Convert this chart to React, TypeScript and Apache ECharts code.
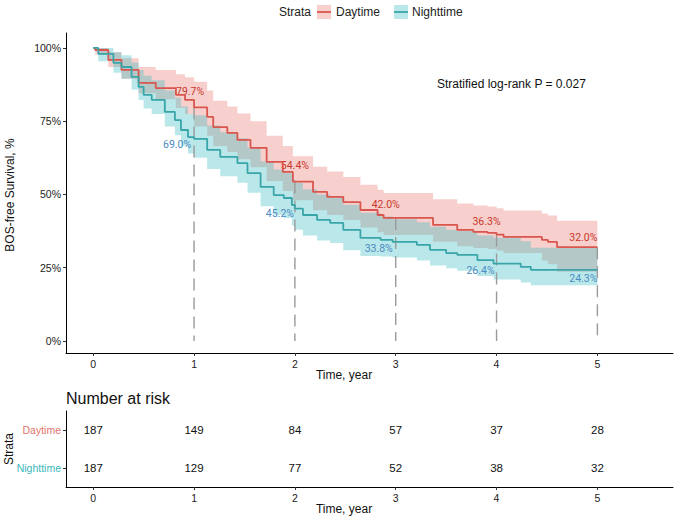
import React, { useEffect, useRef } from 'react';
import * as echarts from 'echarts';

// ---------- data ----------
const END_TIME = 5;

const dayTimes = [0, 0.02, 0.15, 0.28, 0.45, 0.62, 0.82, 0.91, 1.0, 1.13, 1.19, 1.33, 1.43, 1.56, 1.72, 1.88, 1.98, 2.18, 2.32, 2.48, 2.65, 2.82, 2.88, 3.37, 3.61, 3.77, 3.91, 4.0, 4.07, 4.45, 4.51, 4.6];
const daySurv = [1, 0.993, 0.959, 0.925, 0.881, 0.863, 0.84, 0.823, 0.797, 0.765, 0.73, 0.71, 0.686, 0.659, 0.611, 0.577, 0.544, 0.509, 0.492, 0.474, 0.447, 0.43, 0.42, 0.396, 0.379, 0.372, 0.369, 0.363, 0.355, 0.345, 0.338, 0.32];
const dayUpper = [1, 1, 0.985, 0.965, 0.935, 0.925, 0.91, 0.9, 0.885, 0.855, 0.82, 0.8, 0.776, 0.75, 0.7, 0.665, 0.63, 0.595, 0.578, 0.56, 0.533, 0.516, 0.505, 0.484, 0.469, 0.462, 0.459, 0.453, 0.445, 0.435, 0.428, 0.41];
const dayLower = [1, 0.978, 0.935, 0.895, 0.845, 0.825, 0.795, 0.775, 0.732, 0.7, 0.665, 0.645, 0.62, 0.593, 0.546, 0.512, 0.48, 0.446, 0.43, 0.413, 0.387, 0.371, 0.362, 0.339, 0.323, 0.317, 0.314, 0.309, 0.3, 0.275, 0.262, 0.236];

const nightTimes = [0, 0.05, 0.2, 0.28, 0.38, 0.45, 0.5, 0.58, 0.71, 0.81, 0.87, 0.94, 1.0, 1.13, 1.26, 1.43, 1.53, 1.66, 1.79, 1.89, 1.97, 2.0, 2.08, 2.22, 2.35, 2.48, 2.65, 2.85, 2.97, 3.21, 3.34, 3.5, 3.61, 3.81, 3.97, 4.24, 4.34];
const nightSurv = [1, 0.98, 0.949, 0.935, 0.901, 0.867, 0.84, 0.823, 0.782, 0.754, 0.72, 0.696, 0.69, 0.652, 0.628, 0.607, 0.573, 0.526, 0.498, 0.488, 0.464, 0.452, 0.43, 0.413, 0.403, 0.379, 0.352, 0.345, 0.338, 0.328, 0.311, 0.3, 0.294, 0.276, 0.264, 0.253, 0.243];
const nightUpper = [1, 1, 0.985, 0.975, 0.95, 0.925, 0.905, 0.89, 0.855, 0.83, 0.8, 0.775, 0.77, 0.735, 0.712, 0.692, 0.66, 0.613, 0.585, 0.575, 0.552, 0.54, 0.518, 0.5, 0.49, 0.465, 0.438, 0.425, 0.415, 0.405, 0.39, 0.38, 0.375, 0.36, 0.352, 0.34, 0.318];
const nightLower = [1, 0.955, 0.915, 0.895, 0.858, 0.822, 0.793, 0.775, 0.732, 0.702, 0.666, 0.64, 0.625, 0.587, 0.562, 0.54, 0.506, 0.46, 0.43, 0.42, 0.394, 0.38, 0.36, 0.343, 0.334, 0.31, 0.29, 0.288, 0.285, 0.275, 0.258, 0.248, 0.24, 0.222, 0.21, 0.2, 0.19];

const landmarkTimes = [1, 2, 3, 4, 5];
const dayLandmark = [0.797, 0.544, 0.42, 0.363, 0.32];
const nightLandmark = [0.69, 0.452, 0.338, 0.264, 0.243];

const strata = ['Daytime', 'Nighttime'];
const riskTimes = [0, 1, 2, 3, 4, 5];
const riskDay = [187, 149, 84, 57, 37, 28];
const riskNight = [187, 129, 77, 52, 38, 32];

const xTicks = [0, 1, 2, 3, 4, 5];
const yTicks = [0, 0.25, 0.5, 0.75, 1];
const pValueText = 'Stratified log-rank P = 0.027';

// ---------- styles ----------
const RED_LINE = '#D9564E';
const TEAL_LINE = '#3AA5A8';
const RED_BAND = 'rgba(232,125,116,0.36)';
const TEAL_BAND = 'rgba(40,185,190,0.32)';
const RED_LABEL = '#C9372C';
const BLUE_LABEL = '#4A8BC2';
const RED_TABLE = '#E2736B';
const TEAL_TABLE = '#3DB7BC';
const FONT = 'Liberation Sans, Arial, sans-serif';
const dayLabelDx = [-4, 0, -10, -10, -14];
const dayLabelDy = [-16, -16, -13, -13, -10];
const nightLabelDx = [-17, -15, -17, -16, -14];
const nightLabelDy = [6, 5, 7, 7, 9];

function stepPoints(times: number[], vals: number[], end: number): number[][] {
  const pts: number[][] = [[times[0], vals[0]]];
  for (let i = 1; i < times.length; i++) {
    pts.push([times[i], vals[i - 1]]);
    pts.push([times[i], vals[i]]);
  }
  pts.push([end, vals[vals.length - 1]]);
  return pts;
}

function bandSeries(name: string, times: number[], lo: number[], hi: number[], color: string) {
  const upper = stepPoints(times, hi, END_TIME);
  const lower = stepPoints(times, lo, END_TIME).reverse();
  const poly = upper.concat(lower);
  return {
    name: name + ' CI',
    type: 'custom',
    xAxisIndex: 0,
    yAxisIndex: 0,
    silent: true,
    clip: false,
    data: [[0, 1]],
    renderItem: (_params: any, api: any) => ({
      type: 'polygon',
      shape: { points: poly.map((p) => api.coord(p)) },
      style: { fill: color },
    }),
  };
}

function lineSeries(name: string, times: number[], surv: number[], color: string) {
  return {
    name,
    type: 'line',
    xAxisIndex: 0,
    yAxisIndex: 0,
    data: stepPoints(times, surv, END_TIME),
    showSymbol: false,
    symbol: 'none',
    silent: true,
    lineStyle: { color, width: 1.8 },
    itemStyle: { color },
  };
}

function labelSeries(vals: number[], color: string, dx: number[], dy: number[]) {
  return {
    type: 'custom',
    xAxisIndex: 0,
    yAxisIndex: 0,
    silent: true,
    data: landmarkTimes.map((t, i) => [t, vals[i]]),
    renderItem: (params: any, api: any) => {
      const i = params.dataIndex;
      const v = api.value(1);
      const p = api.coord([api.value(0), v]);
      return {
        type: 'text',
        x: p[0] + dx[i],
        y: p[1] + dy[i],
        style: {
          text: (v * 100).toFixed(1) + '%',
          fill: color,
          fontSize: 10.5,
          fontFamily: 'Roboto',
          align: 'center',
          verticalAlign: 'middle',
        },
      };
    },
  };
}

const riskCats = ['Nighttime', 'Daytime'];

function buildOption(): any {
  const axisCommonX = (gridIndex: number) => ({
    type: 'value',
    gridIndex,
    min: -0.27,
    max: 5.75,
    axisLine: { show: true, onZero: false, lineStyle: { color: '#000', width: 1 } },
    axisTick: { show: true, length: 3, customValues: xTicks, lineStyle: { color: '#333' } },
    axisLabel: { customValues: xTicks, margin: 5, fontSize: 10.5, color: '#222', fontFamily: FONT },
    splitLine: { show: false },
  });

  const riskData: number[][] = [];
  riskTimes.forEach((t, i) => {
    riskData.push([t, riskCats.indexOf(strata[0]), riskDay[i]]);
    riskData.push([t, riskCats.indexOf(strata[1]), riskNight[i]]);
  });

  return {
    animation: false,
    textStyle: { fontFamily: FONT },
    grid: [
      { left: 66, top: 33, width: 607, height: 320 },
      { left: 66, top: 411, width: 607, height: 76 },
    ],
    xAxis: [axisCommonX(0), axisCommonX(1)],
    yAxis: [
      {
        type: 'value',
        gridIndex: 0,
        min: -0.041,
        max: 1.051,
        axisLine: { show: true, onZero: false, lineStyle: { color: '#000', width: 1 } },
        axisTick: { show: true, length: 3, customValues: yTicks, lineStyle: { color: '#333' } },
        axisLabel: {
          customValues: yTicks,
          margin: 5,
          fontSize: 10.5,
          color: '#222',
          fontFamily: FONT,
          formatter: (v: number) => Math.round(v * 100) + '%',
        },
        splitLine: { show: false },
      },
      {
        type: 'category',
        gridIndex: 1,
        data: riskCats,
        axisLine: { show: true, onZero: false, lineStyle: { color: '#000', width: 1 } },
        axisTick: { show: true, length: 3, alignWithLabel: true, lineStyle: { color: '#333' } },
        axisLabel: {
          margin: 5,
          fontSize: 10.5,
          fontFamily: FONT,
          color: (v: string) => (v === strata[0] ? RED_TABLE : TEAL_TABLE),
        },
        splitLine: { show: false },
      },
    ],
    series: [
      bandSeries(strata[0], dayTimes, dayLower, dayUpper, RED_BAND),
      bandSeries(strata[1], nightTimes, nightLower, nightUpper, TEAL_BAND),
      {
        type: 'custom',
        xAxisIndex: 0,
        yAxisIndex: 0,
        silent: true,
        data: landmarkTimes.map((t, i) => [t, dayLandmark[i]]),
        renderItem: (_params: any, api: any) => {
          const p1 = api.coord([api.value(0), api.value(1)]);
          const p2 = api.coord([api.value(0), 0]);
          return {
            type: 'line',
            shape: { x1: p1[0], y1: p1[1], x2: p2[0], y2: p2[1] },
            style: { stroke: '#9A9A9A', lineWidth: 1.4, lineDash: [12, 7] },
          };
        },
      },
      lineSeries(strata[0], dayTimes, daySurv, RED_LINE),
      lineSeries(strata[1], nightTimes, nightSurv, TEAL_LINE),
      labelSeries(dayLandmark, RED_LABEL, dayLabelDx, dayLabelDy),
      labelSeries(nightLandmark, BLUE_LABEL, nightLabelDx, nightLabelDy),
      {
        type: 'custom',
        xAxisIndex: 1,
        yAxisIndex: 1,
        silent: true,
        data: riskData,
        encode: { x: 0, y: 1 },
        renderItem: (_params: any, api: any) => {
          const p = api.coord([api.value(0), api.value(1)]);
          return {
            type: 'text',
            x: p[0],
            y: p[1],
            style: {
              text: String(api.value(2)),
              fill: '#111',
              fontSize: 11.5,
              fontFamily: FONT,
              align: 'center',
              verticalAlign: 'middle',
            },
          };
        },
      },
    ],
    graphic: [
      // legend
      { type: 'text', x: 279, y: 12, style: { text: 'Strata', fontSize: 12, fontFamily: FONT, fill: '#222', verticalAlign: 'middle' } },
      { type: 'rect', shape: { x: 317, y: 5, width: 14, height: 14 }, style: { fill: RED_BAND } },
      { type: 'line', shape: { x1: 317, y1: 12, x2: 331, y2: 12 }, style: { stroke: RED_LINE, lineWidth: 1.8 } },
      { type: 'text', x: 336, y: 12, style: { text: strata[0], fontSize: 12, fontFamily: FONT, fill: '#222', verticalAlign: 'middle' } },
      { type: 'rect', shape: { x: 394, y: 5, width: 14, height: 14 }, style: { fill: TEAL_BAND } },
      { type: 'line', shape: { x1: 394, y1: 12, x2: 408, y2: 12 }, style: { stroke: TEAL_LINE, lineWidth: 1.8 } },
      { type: 'text', x: 412, y: 12, style: { text: strata[1], fontSize: 12, fontFamily: FONT, fill: '#222', verticalAlign: 'middle' } },
      // p-value
      { type: 'text', x: 437, y: 84, style: { text: pValueText, fontSize: 12, fontFamily: FONT, fill: '#111', verticalAlign: 'middle' } },
      // axis titles
      { type: 'text', x: 10, y: 195, rotation: Math.PI / 2, style: { text: 'BOS-free Survival, %', fontSize: 12, fontFamily: FONT, fill: '#111', align: 'center', verticalAlign: 'middle' } },
      { type: 'text', x: 344, y: 375, style: { text: 'Time, year', fontSize: 12, fontFamily: FONT, fill: '#111', align: 'center', verticalAlign: 'middle' } },
      { type: 'text', x: 66, y: 398, style: { text: 'Number at risk', fontSize: 16, fontFamily: FONT, fill: '#111', verticalAlign: 'middle' } },
      { type: 'text', x: 9, y: 449, rotation: Math.PI / 2, style: { text: 'Strata', fontSize: 12, fontFamily: FONT, fill: '#111', align: 'center', verticalAlign: 'middle' } },
      { type: 'text', x: 344, y: 509, style: { text: 'Time, year', fontSize: 12, fontFamily: FONT, fill: '#111', align: 'center', verticalAlign: 'middle' } },
    ],
  };
}

export default function App() {
  const ref = useRef<HTMLDivElement>(null);
  useEffect(() => {
    document.body.style.margin = '0';
    const chart = echarts.init(ref.current!, null, { renderer: 'svg' });
    chart.setOption(buildOption());
    return () => chart.dispose();
  }, []);
  return <div ref={ref} style={{ width: 677, height: 519 }} />;
}
